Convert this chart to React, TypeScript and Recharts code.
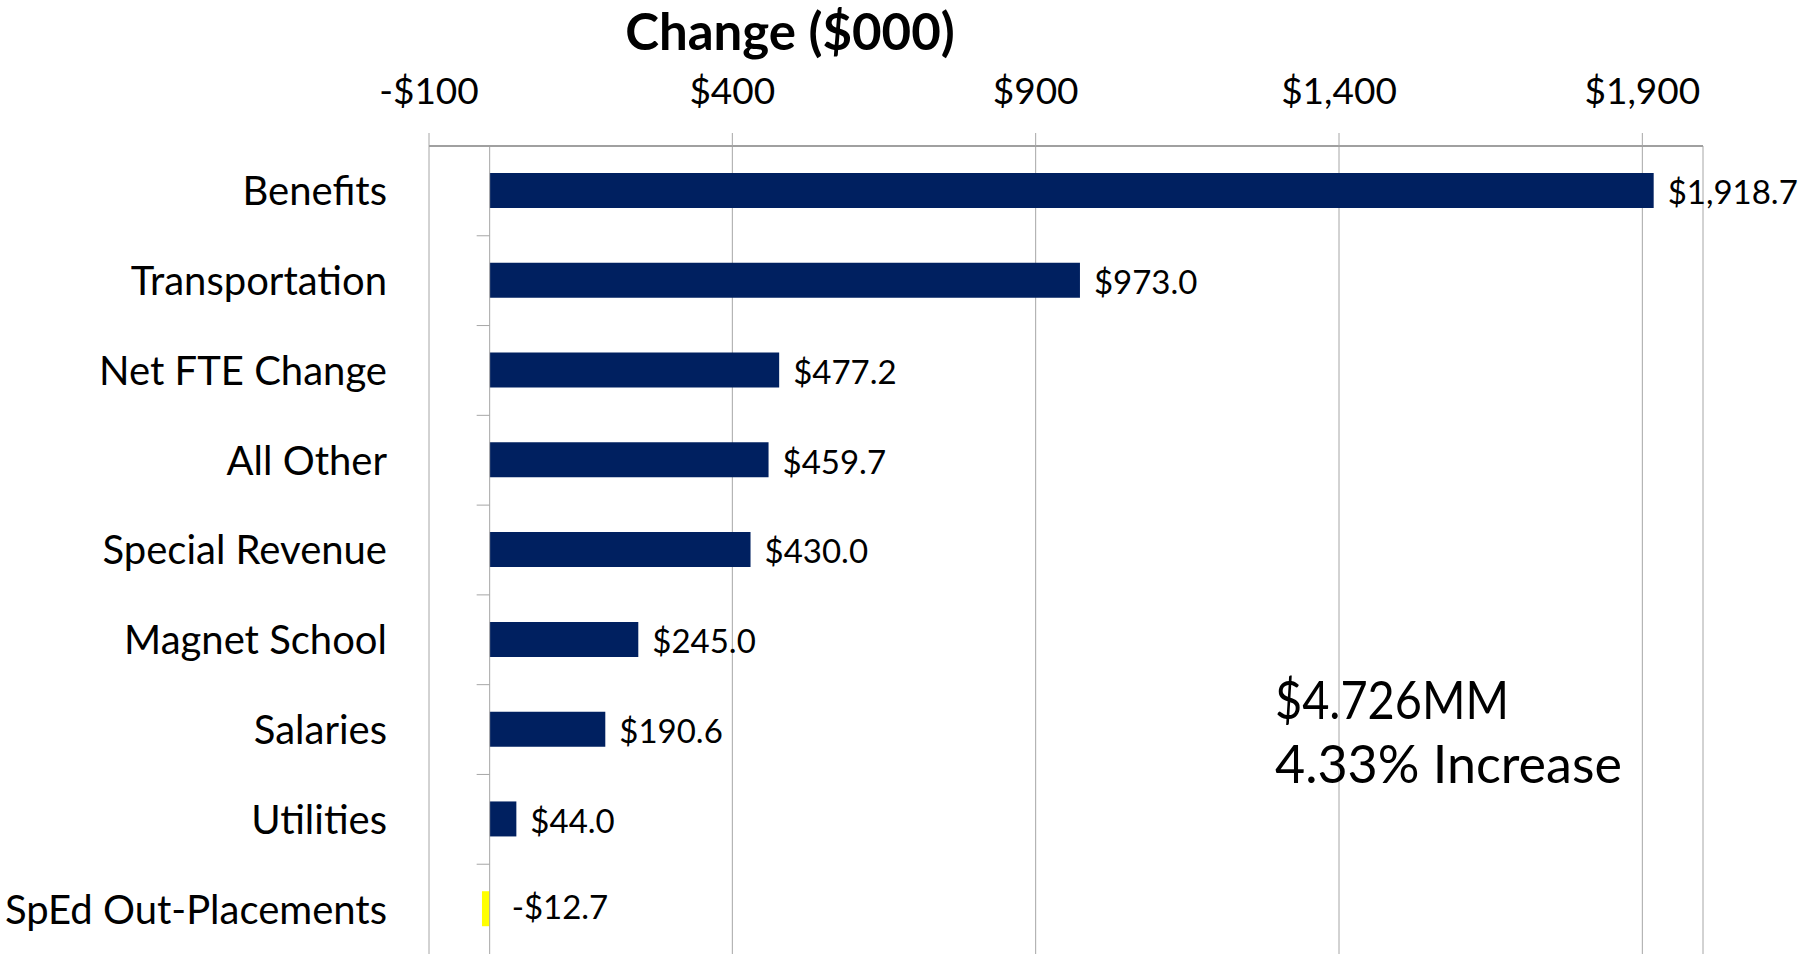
import React from 'react';
import { BarChart, Bar, XAxis, YAxis, CartesianGrid, ReferenceLine, LabelList, Cell } from 'recharts';

const categories = [
  'Benefits',
  'Transportation',
  'Net FTE Change',
  'All Other',
  'Special Revenue',
  'Magnet School',
  'Salaries',
  'Utilities',
  'SpEd Out-Placements',
];
const changes = [1918.7, 973.0, 477.2, 459.7, 430.0, 245.0, 190.6, 44.0, -12.7];
const xTicks = [-100, 400, 900, 1400, 1900];
const xDomain = [-100, 2000];
const chartTitle = 'Change ($000)';
const totalText = '$4.726MM';
const pctText = '4.33% Increase';

const W = 1813;
const H = 954;
const TOP = 146;
const LEFT = 429;
const RIGHT = 110;
const NAVY = '#002060';
const NEG = '#FFFF00';
const GRID = '#a6a6a6';
const FONT = 'Lato, "Open Sans", sans-serif';

const data = categories.map((name, i) => ({ name, value: changes[i] }));

const money = (v: number, digits = 0) => {
  const s = Math.abs(v).toLocaleString('en-US', {
    minimumFractionDigits: digits,
    maximumFractionDigits: digits,
  });
  return (v < 0 ? '-$' : '$') + s;
};

// x position of a value, only used for the little tick marks on the zero axis
const plotW = W - LEFT - RIGHT;
const xOf = (v: number) => LEFT + ((v - xDomain[0]) / (xDomain[1] - xDomain[0])) * plotW;
const band = (H - TOP) / categories.length;

const CategoryTick = (props: any) => {
  const { y, payload, index } = props;
  const zx = xOf(0);
  return (
    <g>
      <text x={387} y={y} dy="0.36em" textAnchor="end" fontSize={40} fontFamily={FONT} fill="#000">
        {payload.value}
      </text>
      {index < categories.length - 1 && (
        <line x1={zx - 13} x2={zx} y1={y + band / 2} y2={y + band / 2} stroke={GRID} />
      )}
    </g>
  );
};

const ValueTick = (props: any) => {
  const { x, payload } = props;
  return (
    <text x={x} y={104} textAnchor="middle" fontSize={37} fontFamily={FONT} fill="#000">
      {money(payload.value)}
    </text>
  );
};

const ValueLabel = (props: any) => {
  const { x, y, width, height, value } = props;
  const right = Math.max(x, x + width);
  const neg = value < 0;
  return (
    <text
      x={right + (neg ? 22 : 14)}
      y={y + height / 2 + (neg ? -2 : 2)}
      dy="0.36em"
      fontSize={33}
      fontFamily={FONT}
      fill="#000"
    >
      {money(value, 1)}
    </text>
  );
};

export default function App() {
  return (
    <div style={{ position: 'absolute', left: 0, top: 0, width: W, height: H, background: '#fff' }}>
      <BarChart
        width={W}
        height={H}
        data={data}
        layout="vertical"
        margin={{ top: 0, right: RIGHT, bottom: 0, left: 0 }}
      >
        <CartesianGrid horizontal={false} stroke={GRID} />
        <XAxis
          type="number"
          orientation="top"
          domain={xDomain}
          ticks={xTicks}
          allowDataOverflow
          interval={0}
          height={TOP}
          tickSize={13}
          tickLine={{ stroke: GRID }}
          axisLine={{ stroke: '#a0a0a0', strokeWidth: 2 }}
          tick={ValueTick}
        />
        <YAxis
          type="category"
          dataKey="name"
          width={LEFT}
          axisLine={false}
          tickLine={false}
          interval={0}
          tick={CategoryTick}
        />
        <ReferenceLine x={0} stroke={GRID} />
        <Bar dataKey="value" barSize={35} isAnimationActive={false}>
          {data.map((d) => (
            <Cell key={d.name} fill={d.value < 0 ? NEG : NAVY} />
          ))}
          <LabelList dataKey="value" content={ValueLabel} />
        </Bar>
      </BarChart>
      <svg
        width={W}
        height={H}
        style={{ position: 'absolute', left: 0, top: 0, pointerEvents: 'none' }}
      >
        <text x={790} y={50} textAnchor="middle" fontSize={51} fontWeight={700} fontFamily={FONT} fill="#000">
          {chartTitle}
        </text>
        <text x={1275} y={719} fontSize={52} fontFamily={FONT} fill="#000" textLength={234} lengthAdjust="spacingAndGlyphs">
          {totalText}
        </text>
        <text x={1275} y={783} fontSize={52} fontFamily={FONT} fill="#000">
          {pctText}
        </text>
      </svg>
    </div>
  );
}
